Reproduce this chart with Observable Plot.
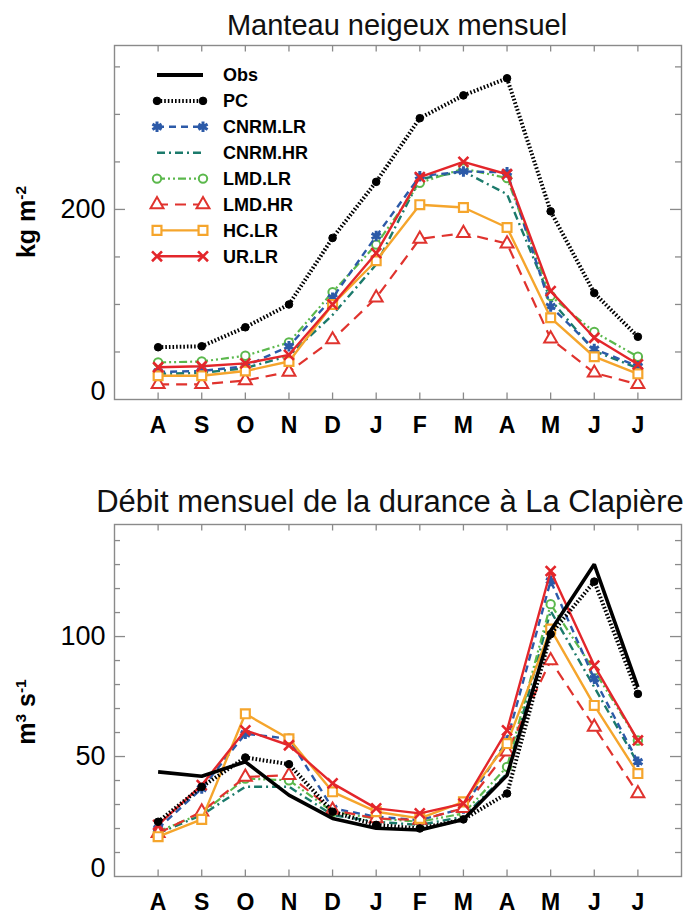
<!DOCTYPE html>
<html><head><meta charset="utf-8">
<script src="https://cdn.jsdelivr.net/npm/d3@7"></script>
<script src="https://cdn.jsdelivr.net/npm/@observablehq/plot@0.6"></script>
<style>
html,body{margin:0;padding:0;background:#fff;}
#fig{position:relative;width:688px;height:916px;overflow:hidden;font-family:"Liberation Sans",Arial,Helvetica,sans-serif;}
.title{position:absolute;white-space:nowrap;color:#111;line-height:1;transform:translateX(-50%);}
.ylab{position:absolute;white-space:nowrap;font-weight:bold;transform:translate(-50%,-50%) rotate(-90deg);line-height:1;color:#000;}
.ylab sup{font-size:0.62em;vertical-align:0.55em;line-height:0;}
</style></head>
<body><div id="fig"></div>
<script>
// ---------- data ----------
const months = ["A","S","O","N","D","J","F","M","A","M","J","J"];
const seriesNames = ["Obs","PC","CNRM.LR","CNRM.HR","LMD.LR","LMD.HR","HC.LR","UR.LR"];

// Manteau neigeux mensuel (kg m-2)
const snowPC     = [55, 56, 76, 100, 170, 229, 296, 320, 338, 198, 112, 66];
const snowCNRMLR = [29, 30, 35, 56, 107, 172, 235, 240, 239, 98, 53, 35];
const snowCNRMHR = [27, 28, 33, 46, 89, 142, 232, 240, 216, 105, 51, 33];
const snowLMDLR  = [39, 40, 46, 60, 113, 163, 228, 243, 233, 109, 71, 45];
const snowLMDHR  = [16, 16, 20, 29, 63, 107, 169, 175, 164, 64, 28, 16];
const snowHCLR   = [25, 25, 30, 40, 100, 146, 205, 202, 181, 86, 45, 27];
const snowURLR   = [34, 35, 38, 47, 100, 154, 234, 250, 237, 114, 65, 37];

// Débit mensuel de la Durance (m3 s-1)
const flowObs    = [43.6, 41.8, 47.8, 33.9, 24.2, 20.1, 19.4, 23.8, 42.2, 102.4, 130.1, 78.9];
const flowPC     = [22.8, 37.4, 49.6, 46.8, 27.0, 21.5, 20.0, 23.8, 34.6, 101.0, 122.9, 76.1];
const flowCNRMLR = [20.0, 36.7, 59.5, 57.4, 28.4, 24.9, 23.5, 28.4, 56.7, 123.2, 82.4, 47.8];
const flowCNRMHR = [18.0, 25.6, 37.4, 37.4, 25.6, 22.8, 21.5, 24.9, 42.9, 110.7, 78.9, 47.1];
const flowLMDLR  = [18.7, 26.3, 40.8, 40.1, 27.0, 24.2, 22.8, 26.3, 45.7, 113.5, 85.8, 56.7];
const flowLMDHR  = [18.0, 27.0, 41.5, 42.2, 27.7, 24.2, 23.5, 28.4, 52.0, 90.0, 62.3, 34.6];
const flowHCLR   = [16.6, 23.8, 67.8, 57.4, 35.3, 27.0, 24.2, 31.1, 55.4, 103.1, 71.3, 42.9];
const flowURLR   = [21.5, 38.1, 60.9, 54.7, 38.8, 28.4, 26.3, 30.4, 60.9, 127.3, 87.9, 56.7];

const snowTicksMajor = [200];
const snowTicksMinor = [50, 100, 150, 250, 300, 350];
const snowLabels = [0, 200];
const flowTicksMajor = [50, 100];
const flowTicksMinor = [10, 20, 30, 40, 60, 70, 80, 90, 110, 120, 130, 140];
const flowLabels = [0, 50, 100];

// ---------- styles ----------
const FONT = '"Liberation Sans", Arial, Helvetica, sans-serif';
const styleOf = {
  "Obs":     {stroke: "#000000", sw: 3.6, dash: null,          symbol: null},
  "PC":      {stroke: "#000000", sw: 4.0, dash: "1.6,2",       symbol: "circle",   r: 3.8, fill: "#000", msw: 1},
  "CNRM.LR": {stroke: "#2c5aa8", sw: 2.4, dash: "7,5",         symbol: "asterisk", r: 5.0, fill: "none", msw: 3},
  "CNRM.HR": {stroke: "#1b7a6b", sw: 2.4, dash: "8,4,2,4",     symbol: null},
  "LMD.LR":  {stroke: "#5bb84c", sw: 2.2, dash: "8,3,2,3,2,3", symbol: "circle",   r: 4.2, fill: "white", msw: 2},
  "LMD.HR":  {stroke: "#e0332e", sw: 2.2, dash: "11,7",        symbol: "triangle", r: 4.8, fill: "white", msw: 2},
  "HC.LR":   {stroke: "#f5a52c", sw: 2.4, dash: null,          symbol: "square",   r: 5.0, fill: "white", msw: 2.2},
  "UR.LR":   {stroke: "#e3262b", sw: 2.4, dash: null,          symbol: "times",    r: 4.6, fill: "none", msw: 2.6}
};
const drawOrder = ["CNRM.HR","LMD.LR","CNRM.LR","LMD.HR","HC.LR","UR.LR","PC","Obs"];
const AXIS = "#8a8a8a";

const fig = document.getElementById("fig");

function rowsOf(name, values) { return values.map((v, i) => ({month: i, value: v, series: name})); }

function makePanel({series, yDomain, height, marginTop, marginBottom, majors, minors, labels}) {
  const marginLeft = 114, marginRight = 7, width = 688;
  const xDomain = [-1, 12];
  const xUnit = (width - marginLeft - marginRight) / (xDomain[1] - xDomain[0]);
  const yUnit = (height - marginTop - marginBottom) / (yDomain[1] - yDomain[0]);
  const longX = 11 / xUnit, shortX = 6 / xUnit, tickY = 6.5 / yUnit;
  const idx = d3.range(12);
  const tk = {stroke: AXIS, strokeWidth: 1.3};
  const marks = [
    Plot.frame({stroke: AXIS, strokeWidth: 1.4}),
    Plot.ruleY(minors, {x1: xDomain[0], x2: xDomain[0] + shortX, ...tk}),
    Plot.ruleY(minors, {x1: xDomain[1] - shortX, x2: xDomain[1], ...tk}),
    Plot.ruleY(majors, {x1: xDomain[0], x2: xDomain[0] + longX, ...tk}),
    Plot.ruleY(majors, {x1: xDomain[1] - longX, x2: xDomain[1], ...tk}),
    Plot.ruleX(idx, {y1: yDomain[0], y2: yDomain[0] + tickY, ...tk}),
    Plot.ruleX(idx, {y1: yDomain[1] - tickY, y2: yDomain[1], ...tk})
  ];
  for (const name of drawOrder) {
    if (!series[name]) continue;
    const s = styleOf[name];
    const rows = rowsOf(name, series[name]);
    const lineOpts = {x: "month", y: "value", stroke: s.stroke, strokeWidth: s.sw, strokeLinecap: "butt", strokeLinejoin: "miter"};
    if (s.dash) lineOpts.strokeDasharray = s.dash;
    marks.push(Plot.line(rows, lineOpts));
    if (s.symbol) marks.push(Plot.dot(rows, {x: "month", y: "value", symbol: s.symbol, r: s.r, stroke: s.stroke, fill: s.fill, strokeWidth: s.msw}));
  }
  marks.push(
    Plot.axisX(idx, {tickFormat: i => months[i], tickSize: 0, tickPadding: 17, fontSize: 23, fontWeight: "bold", fill: "#000", label: null}),
    Plot.axisY(labels.filter(v => v !== 0), {tickSize: 0, tickPadding: 9, fontSize: 27, fill: "#000", label: null}),
    Plot.axisY(labels.filter(v => v === 0), {tickSize: 0, tickPadding: 9, fontSize: 27, fill: "#000", dy: -8, label: null})
  );
  return Plot.plot({
    width, height, marginLeft, marginRight, marginTop, marginBottom,
    x: {domain: xDomain}, y: {domain: yDomain},
    style: {fontFamily: FONT, background: "transparent", overflow: "visible"},
    marks
  });
}

function place(el, left, topPx) { el.style.position = "absolute"; el.style.left = left + "px"; el.style.top = topPx + "px"; fig.appendChild(el); }

// Top panel
const snowPanel = makePanel({
  series: {"PC": snowPC, "CNRM.LR": snowCNRMLR, "CNRM.HR": snowCNRMHR, "LMD.LR": snowLMDLR, "LMD.HR": snowLMDHR, "HC.LR": snowHCLR, "UR.LR": snowURLR},
  yDomain: [0, 372.5], height: 440, marginTop: 45, marginBottom: 41,
  majors: snowTicksMajor, minors: snowTicksMinor, labels: snowLabels
});
place(snowPanel, 0, 0);

// Bottom panel
const flowPanel = makePanel({
  series: {"Obs": flowObs, "PC": flowPC, "CNRM.LR": flowCNRMLR, "CNRM.HR": flowCNRMHR, "LMD.LR": flowLMDLR, "LMD.HR": flowLMDHR, "HC.LR": flowHCLR, "UR.LR": flowURLR},
  yDomain: [0, 146.7], height: 446, marginTop: 54, marginBottom: 40,
  majors: flowTicksMajor, minors: flowTicksMinor, labels: flowLabels
});
place(flowPanel, 0, 470);

// Titles
function addTitle(text, size, baseline, center) {
  const d = document.createElement("div");
  d.className = "title";
  d.textContent = text;
  d.style.fontSize = size + "px";
  d.style.left = center + "px";
  d.style.top = (baseline - 0.8465 * size) + "px";
  fig.appendChild(d);
}
addTitle("Manteau neigeux mensuel", 29, 36, 397);
addTitle("Débit mensuel de la durance à La Clapière", 31, 512, 390);

// Y-axis labels
function addYLabel(html, cx, cy, size) {
  const d = document.createElement("div");
  d.className = "ylab";
  d.innerHTML = html;
  d.style.left = cx + "px"; d.style.top = cy + "px"; d.style.fontSize = size + "px";
  fig.appendChild(d);
}
addYLabel("kg m<sup>-2</sup>", 26, 222, 25);
addYLabel("m<sup>3</sup> s<sup>-1</sup>", 26, 712, 25);

// Legend (top panel)
const symMap = {circle: d3.symbolCircle, asterisk: d3.symbolAsterisk, triangle: d3.symbolTriangle, square: d3.symbolSquare, times: d3.symbolTimes};
const leg = d3.create("svg").attr("width", 200).attr("height", 230).style("overflow", "visible");
seriesNames.forEach((name, i) => {
  const s = styleOf[name];
  const y = 12 + i * 25.9;
  const g = leg.append("g").attr("transform", `translate(0,${y})`);
  g.append("line").attr("x1", 2).attr("x2", 48).attr("y1", 0).attr("y2", 0)
    .attr("stroke", s.stroke).attr("stroke-width", name === "Obs" ? 4 : s.sw)
    .attr("stroke-linecap", "butt")
    .attr("stroke-dasharray", s.dash || null);
  if (s.symbol) {
    const path = d3.symbol(symMap[s.symbol], Math.PI * s.r * s.r)();
    for (const x of [2, 48]) {
      g.append("path").attr("d", path).attr("transform", `translate(${x},0)`)
        .attr("fill", s.fill).attr("stroke", s.stroke).attr("stroke-width", s.msw);
    }
  }
  g.append("text").attr("x", 68).attr("y", 0).attr("dy", "0.36em")
    .attr("font-family", FONT).attr("font-size", 18).attr("font-weight", "bold").attr("fill", "#000")
    .text(name);
});
place(leg.node(), 155, 63);
</script>
</body></html>
